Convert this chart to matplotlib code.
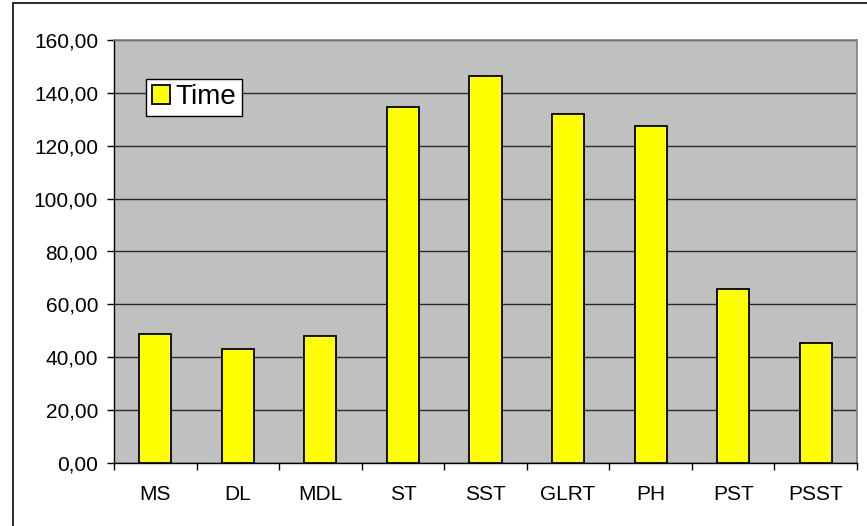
import matplotlib.pyplot as plt
from matplotlib.patches import Rectangle
from matplotlib.ticker import FuncFormatter

methods = ["MS", "DL", "MDL", "ST", "SST", "GLRT", "PH", "PST", "PSST"]
times = [48.8, 43.1, 48.0, 134.6, 146.4, 132.0, 127.5, 65.8, 45.4]
y_ticks = [0, 20, 40, 60, 80, 100, 120, 140, 160]

plt.rcParams['font.family'] = ['Liberation Sans', 'DejaVu Sans']

W, H = 867, 526
fig = plt.figure(figsize=(W / 100, H / 100), dpi=100)

# outer chart frame (only top and left edges fall inside the image)
fig.patches.append(Rectangle((13 / W, -0.1), 1.2, 1 - 3 / H + 0.1,
                             transform=fig.transFigure, fill=False,
                             edgecolor="#1a1a1a", linewidth=1.3))

ax = fig.add_axes([114 / W, 1 - 463 / H, (857 - 114) / W, (463 - 40) / H])
ax.set_facecolor("#c0c0c0")

x = list(range(len(methods)))
ax.bar(x, times, width=0.39, color="#ffff00", edgecolor="black",
       linewidth=1.3, label="Time", zorder=3)

ax.set_xlim(-0.5, len(methods) - 0.5)
ax.set_ylim(0, 160)
ax.set_yticks(y_ticks)
ax.yaxis.set_major_formatter(FuncFormatter(lambda v, p: "{:.2f}".format(v).replace(".", ",")))
ax.yaxis.grid(True, color="#2a2a2a", linewidth=1.0, zorder=1)
ax.set_axisbelow(True)

# category labels centred, ticks on the boundaries
ax.set_xticks(x)
ax.set_xticklabels(methods)
ax.tick_params(axis="x", which="major", length=0, pad=16, labelsize=15)
ax.set_xticks([i - 0.5 for i in range(len(methods) + 1)], minor=True)
ax.tick_params(axis="x", which="minor", length=5, width=1, color="black", direction="out")
ax.tick_params(axis="y", length=5, width=1, direction="out", pad=6.5, labelsize=15)

for side in ("top", "right"):
    ax.spines[side].set_color("#808080")
    ax.spines[side].set_linewidth(1.2)
for side in ("left", "bottom"):
    ax.spines[side].set_color("black")
    ax.spines[side].set_linewidth(1.0)

leg = ax.legend(loc="upper left", bbox_to_anchor=(0.043, 0.908), borderaxespad=0,
                fontsize=20, fancybox=False, shadow=False, framealpha=1,
                edgecolor="black", handlelength=0.65, handleheight=0.65,
                handletextpad=0.22, borderpad=0.2)
leg.get_frame().set_linewidth(1.0)

fig.savefig("out.png", dpi=100)
